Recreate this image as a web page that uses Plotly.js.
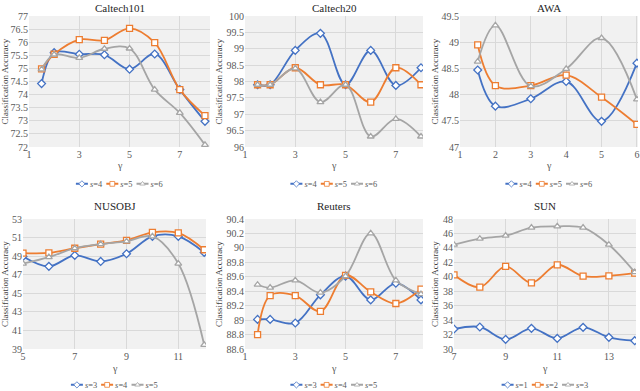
<!DOCTYPE html>
<html>
<head>
<meta charset="utf-8">
<script src="https://cdn.plot.ly/plotly-3.0.1.min.js"></script>
<style>
  html, body { margin: 0; padding: 0; background: #fff; }
  #chart { width: 640px; height: 391px; }
</style>
</head>
<body>
<div id="chart"></div>
<script>
// gamma values on the x axis
const gammaCal = [1.5, 2, 3, 4, 5, 6, 7, 8];
const gammaAwa = [1.5, 2, 3, 4, 5, 6];
const gammaNus = [5, 6, 7, 8, 9, 10, 11, 12];
const gammaSun = [7, 8, 9, 10, 11, 12, 13, 14];

// accuracy values
const caltech101S4 = [74.42, 75.6, 75.54, 75.52, 74.97, 75.55, 74.19, 72.98];
const caltech101S5 = [74.98, 75.54, 76.1, 76.07, 76.53, 75.98, 74.19, 73.2];
const caltech101S6 = [74.96, 75.53, 75.4, 75.75, 75.76, 74.19, 73.3, 72.08];

const caltech20S4 = [97.9, 97.9, 98.95, 99.47, 97.9, 98.95, 97.88, 98.42];
const caltech20S5 = [97.9, 97.9, 98.42, 97.9, 97.9, 97.37, 98.42, 97.9];
const caltech20S6 = [97.9, 97.9, 98.4, 97.37, 97.9, 96.32, 96.86, 96.32];

const awaS4 = [48.47, 47.78, 47.92, 48.25, 47.49, 48.6];
const awaS5 = [48.95, 48.17, 48.17, 48.37, 47.95, 47.43];
const awaS6 = [48.63, 49.32, 48.16, 48.49, 49.08, 47.91];

const nusS3 = [48.97, 47.9, 49.08, 48.43, 49.26, 51.13, 51.13, 49.4];
const nusS4 = [49.33, 49.35, 49.85, 50.3, 50.7, 51.56, 51.5, 49.69];
const nusS5 = [48.2, 48.9, 49.85, 50.3, 50.6, 51.13, 48.2, 39.45];

const reutersS3 = [89.01, 89.01, 88.96, 89.35, 89.61, 89.28, 89.51, 89.28];
const reutersS4 = [88.8, 89.34, 89.34, 89.12, 89.62, 89.39, 89.23, 89.43];
const reutersS5 = [89.49, 89.45, 89.55, 89.38, 89.61, 90.2, 89.55, 89.36];

const sunS1 = [32.77, 33.05, 31.33, 32.86, 31.47, 33.0, 31.61, 31.15];
const sunS2 = [40.27, 38.56, 41.43, 39.16, 41.66, 40.08, 40.13, 40.5];
const sunS3 = [44.44, 45.27, 45.69, 46.8, 46.98, 46.8, 44.44, 40.64];

const blue = '#4472c4', orange = '#ed7d31', gray = '#a5a5a5';
const serif = 'Liberation Serif';

var panels = [
    { title: 'Caltech101', x: gammaCal, series: [caltech101S4, caltech101S5, caltech101S6], names: ['4', '5', '6'],
      xr: [1, 8.2], xd: 2, yr: [72, 77], yd: 0.5, dom: [29, 210], row: 0 },
    { title: 'Caltech20', x: gammaCal, series: [caltech20S4, caltech20S5, caltech20S6], names: ['4', '5', '6'],
      xr: [1, 8.08], xd: 2, yr: [96, 100], yd: 0.5, dom: [245, 423], row: 0 },
    { title: 'AWA', x: gammaAwa, series: [awaS4, awaS5, awaS6], names: ['4', '5', '6'],
      xr: [1, 6.03], xd: 1, yr: [47, 49.5], yd: 0.5, dom: [460, 638], row: 0 },
    { title: 'NUSOBJ', x: gammaNus, series: [nusS3, nusS4, nusS5], names: ['3', '4', '5'],
      xr: [5, 12.07], xd: 2, yr: [39, 53], yd: 2, dom: [23, 206], row: 1 },
    { title: 'Reuters', x: gammaCal, series: [reutersS3, reutersS4, reutersS5], names: ['3', '4', '5'],
      xr: [1, 8.08], xd: 2, yr: [88.6, 90.4], yd: 0.2, dom: [245, 423], row: 1 },
    { title: 'SUN', x: gammaSun, series: [sunS1, sunS2, sunS3], names: ['1', '2', '3'],
      xr: [7, 14.05], xd: 2, yr: [30, 48], yd: 2, dom: [454, 636], row: 1 }
];

const colors = [blue, orange, gray];
const symbols = ['diamond', 'square', 'triangle-up'];
const msizes = [6, 6, 6];
const rowsPx = [[16, 147], [219, 349]];
const titleY = [8, 206];
const gammaY = [165, 368];
const legendY = [184, 385];
const ytitleX = [5, 219, 435, 5, 219, 435];
const legendScale = 0.4;

var data = [];
var layout = {
    width: 640,
    height: 391,
    margin: { l: 0, r: 0, t: 0, b: 0, autoexpand: false },
    paper_bgcolor: '#ffffff',
    plot_bgcolor: '#f1f1f1',
    font: { family: serif, size: 10, color: '#595959' },
    annotations: []
};

panels.forEach((p, i) => {
    const n = i === 0 ? '' : String(i + 1);
    const xa = 'x' + n, ya = 'y' + n;
    const leg = i === 0 ? 'legend' : 'legend' + (i + 1);
    p.series.forEach((ys, k) => {
        data.push({
            x: p.x,
            y: ys,
            xaxis: xa,
            yaxis: ya,
            legend: leg,
            type: 'scatter',
            mode: 'lines+markers',
            name: '<i>s</i>=' + p.names[k],
            line: { color: colors[k], width: 1.8, shape: 'spline', smoothing: 1 },
            marker: { symbol: symbols[k], size: msizes[k], color: '#ffffff', line: { color: colors[k], width: 1.3 } }
        });
    });
    const r = rowsPx[p.row];
    const yDom = [1 - r[1] / 391, 1 - r[0] / 391];
    const xDom = [p.dom[0] / 640, p.dom[1] / 640];
    layout['xaxis' + n] = {
        domain: xDom, anchor: ya, range: p.xr, dtick: p.xd, tick0: p.xr[0],
        showgrid: true, gridcolor: '#d9d9d9', gridwidth: 1, zeroline: false, showline: false,
        ticks: '', tickfont: { size: 10, color: '#595959', family: serif }
    };
    layout['yaxis' + n] = {
        domain: yDom, anchor: xa, range: p.yr, dtick: p.yd, tick0: p.yr[0],
        showgrid: true, gridcolor: '#d9d9d9', gridwidth: 1, zeroline: false, showline: false,
        ticks: '', tickfont: { size: 10, color: '#595959', family: serif }
    };
    layout[leg] = {
        orientation: 'h', x: (xDom[0] + xDom[1]) / 2, xanchor: 'center',
        y: 0.5, yanchor: 'middle',
        font: { size: 21, color: '#595959', family: serif },
        bgcolor: 'rgba(0,0,0,0)', itemwidth: 30, itemsizing: 'constant'
    };
    const cx = (xDom[0] + xDom[1]) / 2;
    layout.annotations.push({
        text: p.title, xref: 'paper', yref: 'paper', x: cx, y: 1 - titleY[p.row] / 391,
        xanchor: 'center', yanchor: 'middle', showarrow: false,
        font: { size: 11, color: '#262626', family: serif }
    });
    layout.annotations.push({
        text: 'γ', xref: 'paper', yref: 'paper', x: cx, y: 1 - gammaY[p.row] / 391,
        xanchor: 'center', yanchor: 'middle', showarrow: false,
        font: { size: 10, color: '#595959', family: serif }
    });
    layout.annotations.push({
        text: 'Classification Accuracy', xref: 'paper', yref: 'paper', x: ytitleX[i] / 640,
        y: (yDom[0] + yDom[1]) / 2, xanchor: 'center', yanchor: 'middle', textangle: -90, showarrow: false,
        font: { size: 9, color: '#404040', family: serif }
    });
});

// Plotly's legend swatch is at least 30px wide, the source uses short ones,
// so shrink each legend box around its own centre after drawing
function shrinkLegends() {
    panels.forEach((p, i) => {
        const cls = i === 0 ? 'legend' : 'legend' + (i + 1);
        const g = document.querySelector('g.infolayer > g.' + cls);
        if (!g) return;
        const bb = g.getBBox();
        const cx = (p.dom[0] + p.dom[1]) / 2;
        const cy = legendY[p.row];
        const tx = cx - (bb.x + bb.width / 2) * legendScale;
        const ty = cy - (bb.y + bb.height / 2) * legendScale;
        g.setAttribute('transform', `translate(${tx},${ty}) scale(${legendScale})`);
    });
}

Plotly.newPlot('chart', data, layout, { displayModeBar: false, staticPlot: true }).then(shrinkLegends);
</script>
</body>
</html>
